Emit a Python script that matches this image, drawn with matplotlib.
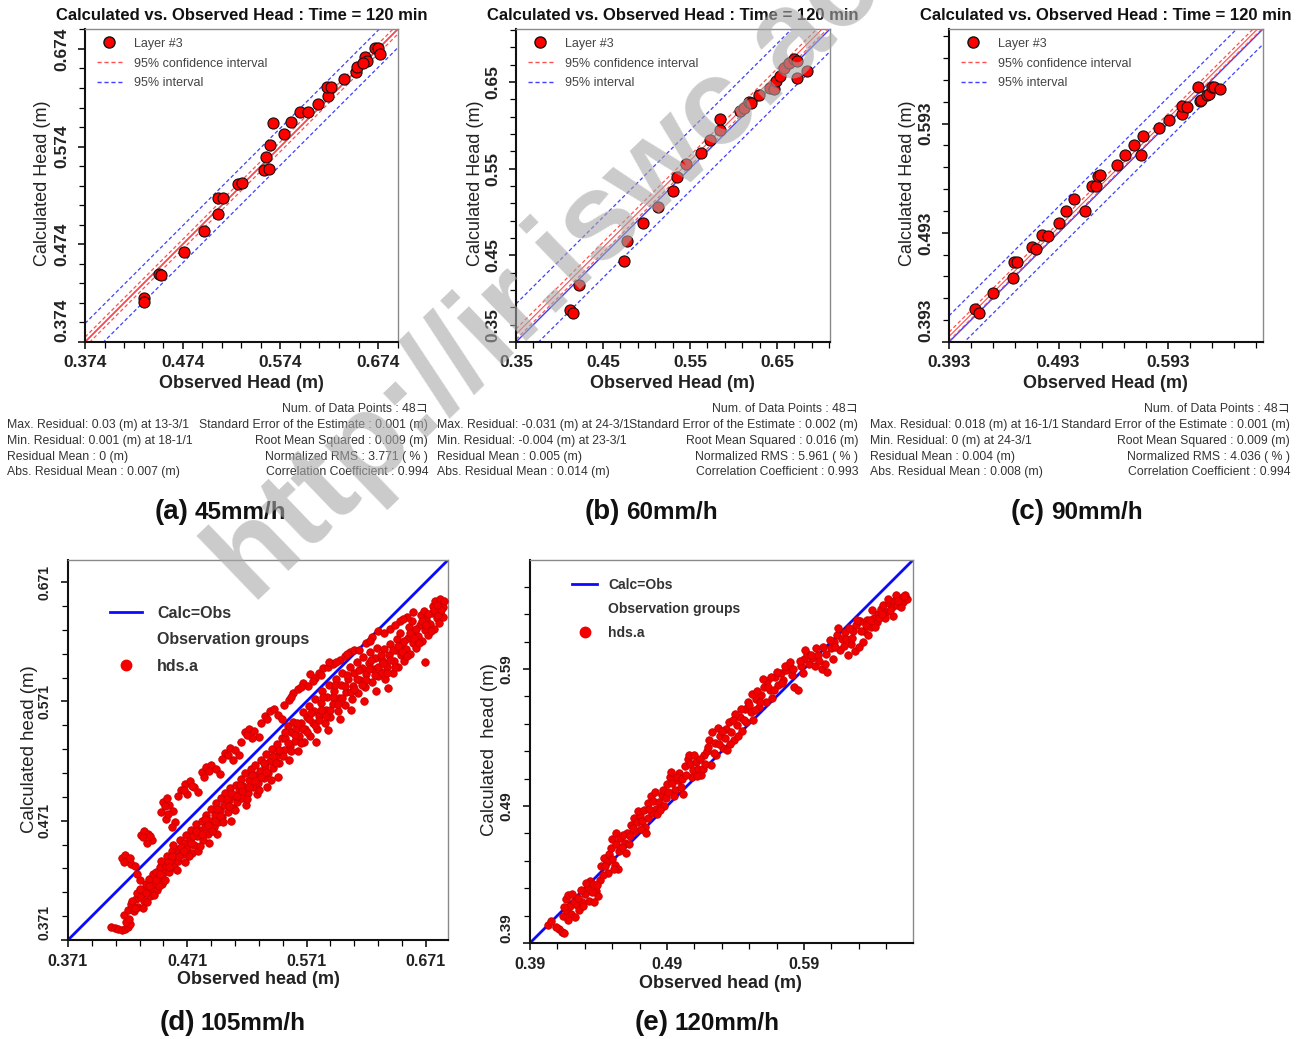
import matplotlib
matplotlib.use("Agg")
import matplotlib.pyplot as plt
from matplotlib.lines import Line2D
import numpy as np

W, H = 1302, 1039
plt.rcParams['font.family'] = ['Liberation Sans', 'DejaVu Sans']

# ---- panel (a): 45 mm/h, layer #3 ----
A_OBS = [0.434, 0.434, 0.450, 0.452, 0.475, 0.496, 0.510, 0.510, 0.515, 0.531, 0.535,
         0.557, 0.562, 0.559, 0.563, 0.566, 0.578, 0.585, 0.594, 0.602, 0.613, 0.623,
         0.622, 0.626, 0.639, 0.651, 0.652, 0.661, 0.663, 0.659, 0.671, 0.674, 0.676]
A_CALC = [0.419, 0.415, 0.444, 0.443, 0.466, 0.488, 0.505, 0.521, 0.521, 0.536, 0.537,
          0.550, 0.551, 0.563, 0.576, 0.598, 0.587, 0.599, 0.609, 0.609, 0.618, 0.626,
          0.635, 0.635, 0.643, 0.650, 0.655, 0.666, 0.662, 0.660, 0.675, 0.675, 0.669]
A_FIT, A_CI, A_PI = 0.0, 0.005, 0.019
A_STATS_L = ["Max. Residual: 0.03 (m) at 13-3/1", "Min. Residual: 0.001 (m) at 18-1/1",
             "Residual Mean : 0 (m)", "Abs. Residual Mean : 0.007 (m)"]
A_STATS_R = ["Num. of Data Points : 48コ", "Standard Error of the Estimate : 0.001 (m)",
             "Root Mean Squared : 0.009 (m)", "Normalized RMS : 3.771 ( % )",
             "Correlation Coefficient : 0.994"]

# ---- panel (b): 60 mm/h ----
B_OBS = [0.412, 0.415, 0.422, 0.474, 0.478, 0.496, 0.513, 0.530, 0.535, 0.545, 0.563,
         0.573, 0.584, 0.585, 0.608, 0.612, 0.618, 0.620, 0.629, 0.642, 0.647, 0.649,
         0.654, 0.658, 0.664, 0.670, 0.673, 0.673, 0.685]
B_CALC = [0.387, 0.384, 0.416, 0.443, 0.466, 0.487, 0.506, 0.524, 0.540, 0.555, 0.568,
          0.583, 0.595, 0.607, 0.616, 0.620, 0.627, 0.626, 0.635, 0.643, 0.642, 0.651,
          0.657, 0.666, 0.672, 0.676, 0.674, 0.655, 0.662]
B_FIT, B_CI, B_PI = 0.009, 0.006, 0.035
B_STATS_L = ["Max. Residual: -0.031 (m) at 24-3/1", "Min. Residual: -0.004 (m) at 23-3/1",
             "Residual Mean : 0.005 (m)", "Abs. Residual Mean : 0.014 (m)"]
B_STATS_R = ["Num. of Data Points : 48コ", "Standard Error of the Estimate : 0.002 (m)",
             "Root Mean Squared : 0.016 (m)", "Normalized RMS : 5.961 ( % )",
             "Correlation Coefficient : 0.993"]

# ---- panel (c): 90 mm/h ----
C_OBS = [0.417, 0.420, 0.433, 0.451, 0.452, 0.455, 0.469, 0.472, 0.478, 0.483, 0.493,
         0.500, 0.507, 0.517, 0.524, 0.527, 0.529, 0.531, 0.546, 0.554, 0.562, 0.568,
         0.570, 0.585, 0.594, 0.606, 0.606, 0.610, 0.620, 0.622, 0.623, 0.629, 0.630,
         0.633, 0.635, 0.640]
C_CALC = [0.423, 0.420, 0.438, 0.452, 0.466, 0.466, 0.480, 0.478, 0.491, 0.490, 0.502,
          0.513, 0.524, 0.513, 0.536, 0.536, 0.545, 0.546, 0.555, 0.564, 0.573, 0.564,
          0.582, 0.589, 0.596, 0.602, 0.609, 0.608, 0.627, 0.614, 0.615, 0.619, 0.620,
          0.627, 0.627, 0.625]
C_FIT, C_CI, C_PI = 0.005, 0.004, 0.019
C_STATS_L = ["Max. Residual: 0.018 (m) at 16-1/1", "Min. Residual: 0 (m) at 24-3/1",
             "Residual Mean : 0.004 (m)", "Abs. Residual Mean : 0.008 (m)"]
C_STATS_R = ["Num. of Data Points : 48コ", "Standard Error of the Estimate : 0.001 (m)",
             "Root Mean Squared : 0.009 (m)", "Normalized RMS : 4.036 ( % )",
             "Correlation Coefficient : 0.994"]

# ---- panel (d): 105 mm/h, all observation points (observed, calculated) ----
D_POINTS = [
    (0.407, 0.382), (0.410, 0.381), (0.413, 0.380), (0.416, 0.379), (0.419, 0.380),
    (0.421, 0.382), (0.423, 0.384), (0.420, 0.386),
    (0.418, 0.392), (0.421, 0.396), (0.424, 0.401), (0.426, 0.395), (0.428, 0.405),
    (0.430, 0.399), (0.429, 0.410), (0.432, 0.407), (0.433, 0.413), (0.435, 0.404),
    (0.436, 0.418), (0.438, 0.411), (0.439, 0.422), (0.441, 0.415), (0.442, 0.426),
    (0.440, 0.408), (0.444, 0.419), (0.445, 0.428), (0.447, 0.423), (0.448, 0.432),
    (0.450, 0.418), (0.449, 0.437), (0.451, 0.427), (0.446, 0.413), (0.453, 0.433),
    (0.454, 0.441), (0.456, 0.428), (0.457, 0.437), (0.458, 0.446), (0.460, 0.432),
    (0.461, 0.441), (0.459, 0.451), (0.463, 0.437), (0.464, 0.447), (0.465, 0.455),
    (0.467, 0.443), (0.468, 0.452), (0.469, 0.436), (0.470, 0.459), (0.471, 0.448),
    (0.473, 0.455), (0.474, 0.463), (0.475, 0.444), (0.477, 0.451), (0.478, 0.468),
    (0.479, 0.458), (0.480, 0.446), (0.481, 0.463), (0.483, 0.471), (0.484, 0.455),
    (0.486, 0.466), (0.487, 0.476), (0.488, 0.460), (0.490, 0.471), (0.491, 0.481),
    (0.489, 0.452), (0.493, 0.466), (0.494, 0.476), (0.495, 0.486), (0.497, 0.470),
    (0.498, 0.480), (0.499, 0.490), (0.500, 0.474), (0.496, 0.460), (0.502, 0.484),
    (0.503, 0.494), (0.505, 0.478), (0.506, 0.488), (0.507, 0.498), (0.509, 0.482),
    (0.510, 0.492), (0.508, 0.471), (0.512, 0.501), (0.513, 0.487), (0.514, 0.496),
    (0.516, 0.506), (0.517, 0.490), (0.518, 0.500), (0.519, 0.511), (0.520, 0.484),
    (0.522, 0.494), (0.523, 0.505), (0.524, 0.514), (0.526, 0.499), (0.527, 0.509),
    (0.528, 0.518), (0.529, 0.493), (0.530, 0.503), (0.532, 0.513), (0.533, 0.522),
    (0.535, 0.507), (0.536, 0.517), (0.537, 0.527), (0.538, 0.499), (0.539, 0.511),
    (0.540, 0.521), (0.542, 0.531), (0.543, 0.515), (0.545, 0.525), (0.546, 0.535),
    (0.547, 0.508), (0.548, 0.519), (0.549, 0.529), (0.550, 0.540), (0.552, 0.530),
    (0.553, 0.540), (0.555, 0.550), (0.556, 0.522), (0.557, 0.534), (0.558, 0.545),
    (0.560, 0.554), (0.561, 0.538), (0.562, 0.548), (0.564, 0.529), (0.565, 0.542),
    (0.566, 0.553), (0.568, 0.562), (0.569, 0.537), (0.570, 0.548), (0.571, 0.558),
    (0.573, 0.567), (0.574, 0.542), (0.576, 0.553), (0.577, 0.563), (0.578, 0.573),
    (0.580, 0.548), (0.581, 0.559), (0.579, 0.537), (0.583, 0.570), (0.584, 0.580),
    (0.586, 0.553), (0.587, 0.564), (0.588, 0.575), (0.590, 0.585), (0.591, 0.558),
    (0.589, 0.547), (0.593, 0.569), (0.594, 0.580), (0.596, 0.590), (0.597, 0.563),
    (0.598, 0.574), (0.600, 0.585), (0.601, 0.595), (0.599, 0.556), (0.603, 0.568),
    (0.604, 0.579), (0.606, 0.590), (0.607, 0.600), (0.609, 0.573), (0.610, 0.584),
    (0.611, 0.595), (0.608, 0.564), (0.613, 0.604), (0.614, 0.578), (0.616, 0.589),
    (0.617, 0.599), (0.618, 0.608), (0.620, 0.583), (0.621, 0.594), (0.619, 0.571),
    (0.623, 0.603), (0.624, 0.612), (0.626, 0.587), (0.627, 0.598), (0.628, 0.607),
    (0.630, 0.616), (0.631, 0.592), (0.629, 0.580), (0.633, 0.596), (0.634, 0.606),
    (0.636, 0.615), (0.637, 0.590), (0.638, 0.600), (0.640, 0.610), (0.641, 0.619),
    (0.639, 0.582), (0.643, 0.595), (0.644, 0.605), (0.646, 0.614), (0.647, 0.623),
    (0.648, 0.600), (0.650, 0.610), (0.651, 0.619), (0.649, 0.628), (0.653, 0.605),
    (0.654, 0.615), (0.656, 0.624), (0.657, 0.633), (0.658, 0.611), (0.660, 0.620),
    (0.661, 0.629), (0.659, 0.638), (0.663, 0.616), (0.664, 0.626), (0.666, 0.635),
    (0.667, 0.643), (0.668, 0.622), (0.670, 0.631), (0.671, 0.640), (0.669, 0.647),
    (0.673, 0.627), (0.674, 0.636), (0.676, 0.645), (0.677, 0.651), (0.678, 0.632),
    (0.680, 0.641), (0.681, 0.649), (0.679, 0.655), (0.682, 0.637), (0.683, 0.645),
    (0.684, 0.653), (0.685, 0.642), (0.683, 0.657), (0.685, 0.650), (0.670, 0.604),
    (0.422, 0.389), (0.425, 0.404), (0.427, 0.398), (0.431, 0.414), (0.434, 0.398),
    (0.436, 0.410), (0.437, 0.403), (0.439, 0.416), (0.443, 0.409), (0.445, 0.421),
    (0.447, 0.416), (0.448, 0.426), (0.452, 0.421), (0.455, 0.436), (0.456, 0.432),
    (0.458, 0.441), (0.462, 0.430), (0.464, 0.441), (0.466, 0.449), (0.468, 0.446),
    (0.472, 0.441), (0.474, 0.452), (0.476, 0.458), (0.478, 0.462), (0.482, 0.450),
    (0.483, 0.460), (0.486, 0.472), (0.488, 0.467), (0.492, 0.462), (0.494, 0.471),
    (0.496, 0.481), (0.498, 0.475), (0.501, 0.470), (0.504, 0.489), (0.506, 0.483),
    (0.508, 0.494), (0.511, 0.480), (0.513, 0.492), (0.515, 0.501), (0.517, 0.496),
    (0.521, 0.489), (0.523, 0.499), (0.525, 0.509), (0.528, 0.504), (0.531, 0.497),
    (0.533, 0.508), (0.535, 0.519), (0.537, 0.512), (0.541, 0.505), (0.543, 0.525),
    (0.545, 0.519), (0.548, 0.530), (0.551, 0.525), (0.553, 0.545), (0.555, 0.536),
    (0.558, 0.529), (0.561, 0.543), (0.563, 0.553), (0.566, 0.536), (0.568, 0.548),
    (0.571, 0.545), (0.573, 0.556), (0.575, 0.561), (0.578, 0.551), (0.581, 0.555),
    (0.583, 0.564), (0.585, 0.575), (0.587, 0.559), (0.591, 0.564), (0.593, 0.575),
    (0.595, 0.585), (0.597, 0.569), (0.601, 0.574), (0.603, 0.584), (0.605, 0.593),
    (0.608, 0.579), (0.611, 0.581), (0.613, 0.590), (0.615, 0.597), (0.617, 0.585),
    (0.621, 0.589), (0.623, 0.598), (0.625, 0.606), (0.628, 0.593), (0.631, 0.600),
    (0.633, 0.610), (0.635, 0.603), (0.638, 0.595), (0.641, 0.606), (0.643, 0.614),
    (0.645, 0.600), (0.648, 0.617), (0.651, 0.612), (0.653, 0.622), (0.655, 0.609),
    (0.658, 0.628), (0.661, 0.624), (0.663, 0.632), (0.665, 0.620), (0.668, 0.638),
    (0.671, 0.635), (0.673, 0.644), (0.675, 0.630), (0.678, 0.648), (0.681, 0.643),
    (0.684, 0.648), (0.686, 0.655), (0.680, 0.652),
    # points sitting above the 1:1 line
    (0.416, 0.440), (0.419, 0.442), (0.421, 0.437), (0.424, 0.435), (0.427, 0.433),
    (0.429, 0.426), (0.431, 0.421), (0.432, 0.459), (0.435, 0.462), (0.438, 0.460),
    (0.441, 0.455), (0.437, 0.452), (0.449, 0.478), (0.451, 0.487), (0.454, 0.490),
    (0.456, 0.484), (0.453, 0.472), (0.459, 0.479), (0.461, 0.470), (0.458, 0.466),
    (0.466, 0.497), (0.469, 0.502), (0.473, 0.504), (0.477, 0.499), (0.480, 0.495),
    (0.471, 0.493), (0.483, 0.512), (0.487, 0.516), (0.491, 0.518), (0.495, 0.514),
    (0.498, 0.510), (0.503, 0.528), (0.507, 0.532), (0.511, 0.530), (0.514, 0.526),
    (0.509, 0.522), (0.519, 0.545), (0.523, 0.548), (0.527, 0.546), (0.531, 0.541),
    (0.525, 0.540), (0.536, 0.559), (0.540, 0.563), (0.544, 0.565), (0.547, 0.560),
    (0.550, 0.556), (0.556, 0.572), (0.560, 0.578), (0.564, 0.581), (0.568, 0.586),
    (0.572, 0.584), (0.574, 0.594), (0.578, 0.591), (0.581, 0.595), (0.585, 0.599),
    (0.589, 0.600), (0.593, 0.602), (0.590, 0.604), (0.599, 0.606), (0.603, 0.609),
    (0.607, 0.612), (0.611, 0.614), (0.621, 0.620), (0.626, 0.625), (0.631, 0.630),
    (0.636, 0.628), (0.641, 0.632), (0.649, 0.638), (0.655, 0.642), (0.660, 0.646),
    (0.418, 0.436), (0.423, 0.440), (0.434, 0.457), (0.440, 0.458), (0.452, 0.483),
    (0.455, 0.477), (0.463, 0.492), (0.468, 0.497), (0.475, 0.500), (0.485, 0.508),
    (0.489, 0.513), (0.500, 0.523), (0.505, 0.526), (0.516, 0.537), (0.521, 0.543),
    (0.533, 0.553), (0.538, 0.556), (0.552, 0.568), (0.558, 0.575), (0.566, 0.583),
    (0.576, 0.588), (0.583, 0.593), (0.596, 0.604), (0.605, 0.611), (0.615, 0.614),
    (0.624, 0.622), (0.645, 0.635), (0.652, 0.640),
]

# ---- panel (e): 120 mm/h ----
E_POINTS = [
    (0.403, 0.403), (0.411, 0.400), (0.413, 0.398), (0.415, 0.397), (0.414, 0.410),
    (0.417, 0.413), (0.420, 0.411), (0.423, 0.409), (0.419, 0.417), (0.422, 0.420),
    (0.416, 0.422), (0.418, 0.425), (0.421, 0.426), (0.424, 0.418), (0.426, 0.414),
    (0.428, 0.420), (0.430, 0.426), (0.432, 0.431), (0.434, 0.435), (0.436, 0.433),
    (0.438, 0.428), (0.440, 0.424), (0.433, 0.421), (0.437, 0.420), (0.441, 0.436),
    (0.442, 0.446), (0.444, 0.452), (0.446, 0.449), (0.448, 0.455), (0.450, 0.451),
    (0.452, 0.447), (0.454, 0.444), (0.447, 0.441), (0.455, 0.457), (0.450, 0.466),
    (0.453, 0.470), (0.456, 0.467), (0.459, 0.463), (0.461, 0.470), (0.457, 0.460),
    (0.462, 0.462), (0.464, 0.476), (0.466, 0.481), (0.468, 0.478), (0.470, 0.483),
    (0.472, 0.479), (0.474, 0.475), (0.476, 0.481), (0.467, 0.472), (0.476, 0.492),
    (0.478, 0.497), (0.480, 0.494), (0.482, 0.488), (0.484, 0.493), (0.486, 0.498),
    (0.488, 0.490), (0.479, 0.485), (0.483, 0.484), (0.490, 0.506), (0.492, 0.511),
    (0.494, 0.507), (0.496, 0.502), (0.498, 0.509), (0.500, 0.504), (0.502, 0.499),
    (0.495, 0.497), (0.499, 0.514), (0.503, 0.519), (0.505, 0.524), (0.507, 0.521),
    (0.509, 0.516), (0.511, 0.522), (0.513, 0.517), (0.515, 0.513), (0.508, 0.511),
    (0.517, 0.527), (0.519, 0.530), (0.521, 0.538), (0.523, 0.544), (0.525, 0.536),
    (0.527, 0.547), (0.529, 0.541), (0.526, 0.527), (0.531, 0.532), (0.522, 0.520),
    (0.516, 0.517), (0.533, 0.546), (0.535, 0.551), (0.537, 0.544), (0.539, 0.538),
    (0.541, 0.549), (0.536, 0.535), (0.543, 0.555), (0.540, 0.557), (0.545, 0.545),
    (0.547, 0.561), (0.549, 0.566), (0.551, 0.559), (0.553, 0.553), (0.555, 0.568),
    (0.548, 0.551), (0.557, 0.562), (0.552, 0.572), (0.559, 0.571), (0.561, 0.577),
    (0.563, 0.581), (0.565, 0.575), (0.567, 0.569), (0.569, 0.584), (0.562, 0.566),
    (0.571, 0.578), (0.573, 0.587), (0.575, 0.582), (0.577, 0.589), (0.579, 0.593),
    (0.581, 0.586), (0.583, 0.577), (0.586, 0.575), (0.588, 0.592), (0.590, 0.597),
    (0.592, 0.601), (0.594, 0.594), (0.596, 0.598), (0.598, 0.592), (0.600, 0.600),
    (0.603, 0.590), (0.605, 0.594), (0.607, 0.588), (0.610, 0.605), (0.612, 0.610),
    (0.614, 0.615), (0.616, 0.604), (0.618, 0.612), (0.620, 0.617), (0.622, 0.600),
    (0.624, 0.608), (0.627, 0.603), (0.630, 0.606), (0.633, 0.610), (0.626, 0.618),
    (0.628, 0.622), (0.631, 0.625), (0.634, 0.618), (0.636, 0.626), (0.639, 0.621),
    (0.641, 0.627), (0.643, 0.624), (0.637, 0.615), (0.644, 0.630), (0.646, 0.634),
    (0.648, 0.637), (0.650, 0.632), (0.652, 0.638), (0.654, 0.635), (0.656, 0.640),
    (0.658, 0.637), (0.660, 0.642), (0.662, 0.639), (0.664, 0.644), (0.665, 0.641),
    (0.655, 0.629), (0.649, 0.627), (0.661, 0.635),
    (0.405, 0.406), (0.409, 0.402), (0.415, 0.416), (0.418, 0.407), (0.425, 0.423),
    (0.427, 0.429), (0.429, 0.417), (0.431, 0.434), (0.435, 0.427), (0.439, 0.432),
    (0.443, 0.440), (0.445, 0.446), (0.449, 0.459), (0.451, 0.444), (0.453, 0.462),
    (0.458, 0.469), (0.460, 0.456), (0.463, 0.468), (0.465, 0.474), (0.469, 0.486),
    (0.471, 0.473), (0.473, 0.487), (0.475, 0.470), (0.477, 0.488), (0.481, 0.500),
    (0.485, 0.487), (0.487, 0.502), (0.489, 0.496), (0.491, 0.500), (0.493, 0.515),
    (0.497, 0.511), (0.501, 0.510), (0.504, 0.513), (0.506, 0.527), (0.510, 0.527),
    (0.512, 0.512), (0.514, 0.524), (0.518, 0.521), (0.520, 0.533), (0.524, 0.529),
    (0.528, 0.535), (0.530, 0.545), (0.532, 0.540), (0.534, 0.531), (0.538, 0.553),
    (0.542, 0.541), (0.544, 0.561), (0.546, 0.553), (0.550, 0.564), (0.554, 0.560),
    (0.556, 0.574), (0.558, 0.566), (0.560, 0.583), (0.564, 0.577), (0.566, 0.584),
    (0.568, 0.575), (0.570, 0.588), (0.574, 0.580), (0.576, 0.592), (0.580, 0.595),
    (0.582, 0.590), (0.587, 0.596), (0.589, 0.587), (0.591, 0.604), (0.595, 0.600),
    (0.599, 0.605), (0.601, 0.596), (0.604, 0.606), (0.606, 0.601), (0.609, 0.611),
    (0.611, 0.597), (0.613, 0.606), (0.615, 0.620), (0.619, 0.607), (0.621, 0.612),
    (0.623, 0.620), (0.625, 0.613), (0.629, 0.626), (0.632, 0.618), (0.635, 0.622),
    (0.638, 0.626), (0.640, 0.633), (0.642, 0.621), (0.645, 0.627), (0.647, 0.630),
    (0.651, 0.641), (0.653, 0.633), (0.657, 0.644), (0.659, 0.640), (0.663, 0.643),
]

fig = plt.figure(figsize=(W / 100, H / 100), dpi=100)
fig.patch.set_facecolor("white")


def px_axes(x0, y0, x1, y1):
    return fig.add_axes([x0 / W, 1 - y1 / H, (x1 - x0) / W, (y1 - y0) / H])


def ftext(x, y, s, **kw):
    return fig.text(x / W, 1 - y / H, s, **kw)


def style_axes(ax, lo, hi, majors, labels, tsize_x, tsize_y, ypad, xpad):
    ax.set_xlim(lo, hi)
    ax.set_ylim(lo, hi)
    ax.set_xticks(majors, labels)
    ax.set_yticks(majors, labels)
    minors = np.arange(lo, hi, 0.02)
    ax.set_xticks(minors, minor=True)
    ax.set_yticks(minors, minor=True)
    ax.tick_params(which="major", direction="out", length=5, width=1.1)
    ax.tick_params(which="minor", direction="out", length=4, width=0.9)
    ax.tick_params(axis="x", which="major", labelsize=tsize_x, pad=xpad)
    ax.tick_params(axis="y", which="major", labelsize=tsize_y, pad=ypad)
    for lab in ax.get_xticklabels() + ax.get_yticklabels():
        lab.set_fontweight("bold")
        lab.set_color("#222222")
    for lab in ax.get_yticklabels():
        lab.set_rotation(90)
        lab.set_va("center")
    ax.get_yticklabels()[0].set_va("bottom")
    for s in ("left", "bottom"):
        ax.spines[s].set_linewidth(1.5)
        ax.spines[s].set_color("#111111")
    for s in ("top", "right"):
        ax.spines[s].set_linewidth(1.0)
        ax.spines[s].set_color("#8a8a8a")


def top_panel(rect, lo, hi, majors, labels, obs, calc, fit, ci, pi, left_x, right_x,
              stats_l, stats_r, xlab_x, ylab_x):
    ax = px_axes(*rect)
    xs = np.array([lo, hi])
    dash = (0, (3, 2))
    ax.plot(xs, xs, color="#3a3aff", lw=1.0, zorder=2)
    ax.plot(xs, xs + fit, color="#ff4a4a", lw=0.8, zorder=2)
    for sgn in (-1, 1):
        ax.plot(xs, xs + fit + sgn * ci, color="#ff5050", lw=0.9, ls=dash, zorder=2)
        ax.plot(xs, xs + fit + sgn * pi, color="#4040ff", lw=0.9, ls=dash, zorder=2)
    ax.scatter(obs, calc, s=64, c="#ff0000", edgecolors="#111111", linewidths=0.8,
               zorder=3)
    style_axes(ax, lo, hi, majors, labels, 12.5, 12.5, 6.5, 4.3)

    handles = [Line2D([], [], ls="none", marker="o", ms=8, mfc="#ff0000", mec="#111111"),
               Line2D([], [], color="#ff5050", lw=1.0, ls=dash),
               Line2D([], [], color="#4040ff", lw=1.0, ls=dash)]
    leg = ax.legend(handles, ["Layer #3", "95% confidence interval", "95% interval"],
                    loc="upper left", bbox_to_anchor=(0.038, 0.972), frameon=False,
                    fontsize=9, handlelength=2.0, handletextpad=1.0, labelspacing=0.62,
                    borderpad=0, borderaxespad=0)
    for t in leg.get_texts():
        t.set_color("#444444")

    cx = (rect[0] + rect[2]) / 2
    ftext(cx, 16, "Calculated vs. Observed Head : Time = 120 min", ha="center",
          va="center", fontsize=12, fontweight="bold", color="#111111")
    ftext(xlab_x, 383, "Observed Head (m)", ha="center", va="center", fontsize=13,
          fontweight="bold", color="#222222")
    ftext(ylab_x, 183, "Calculated Head (m)", ha="center", va="center", fontsize=13,
          rotation=90, color="#222222")

    stat_kw = dict(fontsize=8.8, color="#333333", va="center",
                   family=["Liberation Sans", "Noto Sans CJK JP"])
    ftext(right_x, 409, stats_r[0], ha="right", **stat_kw)
    for i, s in enumerate(stats_l):
        ftext(left_x, 425 + 15.8 * i, s, ha="left", **stat_kw)
    for i, s in enumerate(stats_r[1:]):
        ftext(right_x, 425 + 15.8 * i, s, ha="right", **stat_kw)
    return ax


def bottom_panel(rect, lo, hi, majors, labels, points, tx, ty, leg_anchor, leg_size,
                 hlen, hpad, lspace, xlab, ylab, ylabel_text):
    ax = px_axes(*rect)
    pts = np.array(points)
    xs = np.array([lo, hi])
    ax.plot(xs, xs, color="#0a0aff", lw=2.0, zorder=2)
    ax.plot(pts[:, 0], pts[:, 1], ls="none", marker="o", ms=5.4, mfc="#f20000",
            mec="#c80000", mew=0.6, zorder=3)
    style_axes(ax, lo, hi, majors, labels, tx, ty, 7.0, 5.0)

    handles = [Line2D([], [], color="#0a0aff", lw=2.0),
               Line2D([], [], ls="none"),
               Line2D([], [], ls="none", marker="o", ms=7.5, mfc="#f20000", mec="#f20000")]
    leg = ax.legend(handles, ["Calc=Obs", "Observation groups", "hds.a"],
                    loc="upper left", bbox_to_anchor=leg_anchor, frameon=False,
                    prop={"weight": "bold", "size": leg_size}, handlelength=hlen,
                    handletextpad=hpad, labelspacing=lspace, borderpad=0,
                    borderaxespad=0)
    for t in leg.get_texts():
        t.set_color("#333333")

    ftext(xlab[0], xlab[1], "Observed head (m)", ha="center", va="center", fontsize=13,
          fontweight="bold", color="#222222")
    ftext(ylab[0], ylab[1], ylabel_text, ha="center", va="center", fontsize=13.4,
          rotation=90, color="#222222")
    return ax


top_panel((85, 29, 398, 342), 0.374, 0.6944, [0.374, 0.474, 0.574, 0.674],
          ["0.374", "0.474", "0.574", "0.674"], A_OBS, A_CALC, A_FIT, A_CI, A_PI,
          7, 428, A_STATS_L, A_STATS_R, 241, 43)
top_panel((516, 29, 830, 342), 0.35, 0.711, [0.35, 0.45, 0.55, 0.65],
          ["0.35", "0.45", "0.55", "0.65"], B_OBS, B_CALC, B_FIT, B_CI, B_PI,
          437, 858, B_STATS_L, B_STATS_R, 672, 476)
top_panel((949, 29, 1263, 342), 0.393, 0.6797, [0.393, 0.493, 0.593],
          ["0.393", "0.493", "0.593"], C_OBS, C_CALC, C_FIT, C_CI, C_PI,
          870, 1290, C_STATS_L, C_STATS_R, 1105, 907)

bottom_panel((68, 560, 448, 940), 0.371, 0.6895, [0.371, 0.471, 0.571, 0.671],
             ["0.371", "0.471", "0.571", "0.671"], D_POINTS, 11.5, 10, (0.11, 0.879),
             11.5, 2.0, 0.95, 0.72, (258, 980), (30, 749), "Calculated head (m)")
bottom_panel((530, 560, 913, 943), 0.39, 0.6696, [0.39, 0.49, 0.59],
             ["0.39", "0.49", "0.59"], E_POINTS, 11.5, 11, (0.11, 0.953),
             10, 1.8, 0.8, 0.73, (720, 983), (490, 750), "Calculated  head (m)")

# panel captions
CAPTIONS = [("(a)", "45mm/h", 189, 519), ("(b)", "60mm/h", 620, 519),
            ("(c)", "90mm/h", 1045, 519), ("(d)", "105mm/h", 195, 1030),
            ("(e)", "120mm/h", 669, 1030)]
for letter, rate, x, y in CAPTIONS:
    ftext(x, y, letter, ha="right", va="baseline", fontsize=20, fontweight="bold",
          color="#111111")
    ftext(x + 6, y, rate, ha="left", va="baseline", fontsize=17.5, fontweight="bold",
          color="#111111")

# repository watermark across the upper panels
ftext(250, 600, "http://ir.iswc.ac.ir", ha="left", va="baseline", rotation=44,
      rotation_mode="anchor", fontsize=88, fontweight="bold", color="#a8a8a8",
      alpha=0.6, zorder=10)

fig.savefig("out.png", dpi=100, facecolor="white")
